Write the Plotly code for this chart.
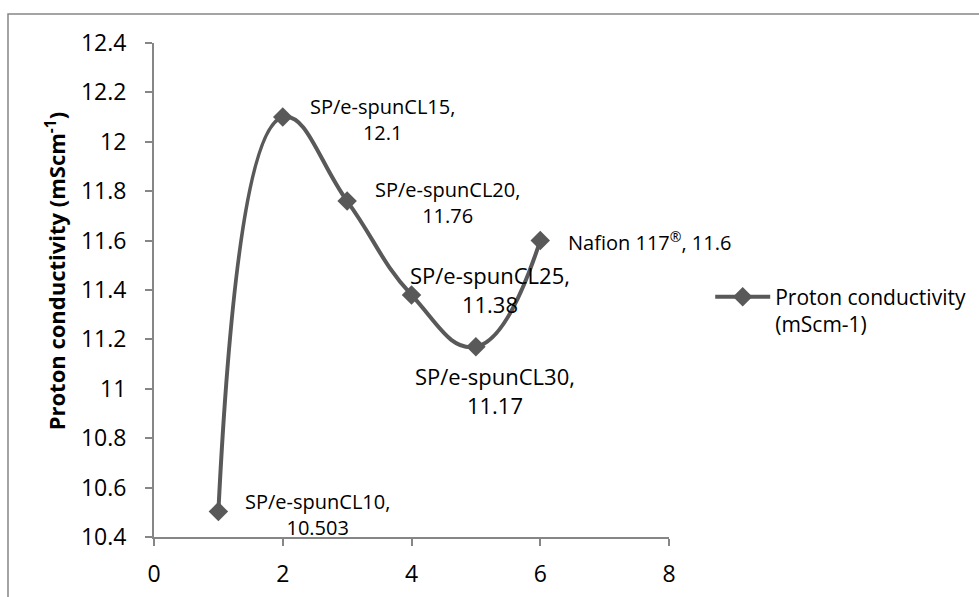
import plotly.graph_objects as go

# ---- data ----
x_vals = [1, 2, 3, 4, 5, 6]
conductivity = [10.503, 12.1, 11.76, 11.38, 11.17, 11.6]
sample_names = ["SP/e-spunCL10", "SP/e-spunCL15", "SP/e-spunCL20",
                "SP/e-spunCL25", "SP/e-spunCL30", "Nafion 117<sup>®</sup>"]
value_text = ["10.503", "12.1", "11.76", "11.38", "11.17", "11.6"]
series_name = "Proton conductivity<br>(mScm-1)"
y_title = "Proton conductivity (mScm<sup>-1</sup>)"
x_ticks = [0, 2, 4, 6, 8]
y_ticks = [10.4, 10.6, 10.8, 11, 11.2, 11.4, 11.6, 11.8, 12, 12.2, 12.4]

FONT = "Open Sans"
LINE_COLOR = "#595959"
AXIS_COLOR = "#868686"

fig = go.Figure()
fig.add_trace(go.Scatter(
    x=x_vals, y=conductivity, name=series_name,
    mode="lines+markers",
    line=dict(color=LINE_COLOR, width=4, shape="spline", smoothing=1.3),
    marker=dict(symbol="diamond", size=15, color=LINE_COLOR),
))

# label placement styles (label text comes from data arrays)
label_style = [
    dict(xanchor="left", xshift=25, yshift=-3, size=20),
    dict(xanchor="left", xshift=25, yshift=-2, size=20),
    dict(xanchor="left", xshift=26, yshift=-1, size=20),
    dict(xanchor="center", xshift=78, yshift=5, size=22),
    dict(xanchor="center", xshift=19, yshift=-44, size=22),
    dict(xanchor="left", xshift=26, yshift=-1, size=20),
]
for i, (xv, yv, nm, vt) in enumerate(zip(x_vals, conductivity, sample_names, value_text)):
    st = label_style[i]
    sep = ", " if i == 5 else ",<br>"
    fig.add_annotation(
        x=xv, y=yv, xref="x", yref="y",
        text=nm + sep + vt, showarrow=False,
        xanchor=st["xanchor"], yanchor="middle", align="center",
        xshift=st["xshift"], yshift=st["yshift"],
        font=dict(family=FONT, size=st["size"], color="black"),
    )

# y axis title as annotation
fig.add_annotation(
    x=-0.192, y=0.538, xref="paper", yref="paper",
    text="<b>" + y_title + "</b>", textangle=-90, showarrow=False,
    xanchor="center", yanchor="middle",
    font=dict(family=FONT, size=22, color="black"),
)

# outer chart border
fig.add_shape(type="rect", xref="paper", yref="paper",
              x0=-0.2835, x1=1.75, y0=-0.2, y1=1.0587,
              line=dict(color=AXIS_COLOR, width=1.5), fillcolor="rgba(0,0,0,0)",
              layer="below")

fig.update_layout(
    width=979, height=597,
    margin=dict(l=154, r=310, t=43, b=60, autoexpand=False),
    paper_bgcolor="white", plot_bgcolor="white",
    font=dict(family=FONT, color="black"),
    showlegend=True,
    legend=dict(x=1.08, y=0.527, xanchor="left", yanchor="top", valign="top",
                font=dict(family=FONT, size=21, color="black"),
                bgcolor="rgba(0,0,0,0)", itemwidth=55, tracegroupgap=0),
    xaxis=dict(range=[0, 8], tickvals=x_ticks, showgrid=False, zeroline=False,
               showline=True, linecolor=AXIS_COLOR, linewidth=2,
               ticks="outside", ticklen=7, tickcolor=AXIS_COLOR, tickwidth=2,
               tickfont=dict(family=FONT, size=23, color="black"),
               ticklabelstandoff=8),
    yaxis=dict(range=[10.4, 12.4], tickvals=y_ticks, showgrid=False, zeroline=False,
               showline=True, linecolor=AXIS_COLOR, linewidth=2,
               ticks="outside", ticklen=7, tickcolor=AXIS_COLOR, tickwidth=2,
               tickfont=dict(family=FONT, size=23, color="black"),
               ticklabelstandoff=14),
)

fig.write_html("out.html")
